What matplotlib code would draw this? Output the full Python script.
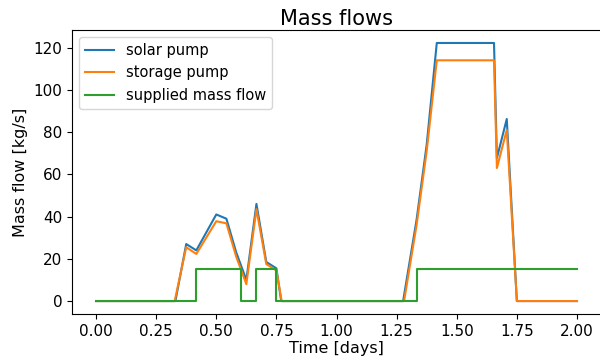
import matplotlib
matplotlib.use("Agg")
import matplotlib.pyplot as plt

# Time axis in days; pump flows in kg/s
solar_t = [0.0, 0.33, 0.375, 0.417, 0.5, 0.542, 0.583, 0.625, 0.667, 0.708, 0.75, 0.77,
           1.277, 1.333, 1.375, 1.417, 1.655, 1.667, 1.708, 1.75, 2.0]
solar_flow = [0, 0, 27, 24, 41, 39, 23, 10, 46, 18.5, 15.5, 0,
              0, 38.5, 74, 122.2, 122.2, 67.7, 86.2, 0, 0]

storage_t = [0.0, 0.327, 0.375, 0.417, 0.5, 0.542, 0.583, 0.625, 0.667, 0.708, 0.75, 0.772,
             1.281, 1.333, 1.375, 1.417, 1.655, 1.667, 1.708, 1.75, 2.0]
storage_flow = [0, 0, 25.5, 22.3, 37.8, 36.8, 21, 8, 43.5, 17.5, 14.5, 0,
                0, 36, 71, 114, 114, 63, 81, 0, 0]

supply_t = [0.0, 0.4167, 0.6042, 0.6667, 0.75, 1.3333, 2.0]
supply_flow = [0, 15, 0, 15, 0, 15, 15]

fig = plt.figure(figsize=(6.0, 3.58), dpi=100)
ax = fig.add_axes([0.12, 0.123, 0.8817, 0.793])

ax.plot(solar_t, solar_flow, color="#1f77b4", lw=1.5, label="solar pump")
ax.plot(storage_t, storage_flow, color="#ff7f0e", lw=1.5, label="storage pump")
ax.plot(supply_t, supply_flow, color="#2ca02c", lw=1.5, drawstyle="steps-post",
        label="supplied mass flow")

ax.set_xticks([0.0, 0.25, 0.5, 0.75, 1.0, 1.25, 1.5, 1.75, 2.0])
ax.xaxis.set_major_formatter(matplotlib.ticker.FormatStrFormatter("%.2f"))
ax.set_yticks([0, 20, 40, 60, 80, 100, 120])
ax.tick_params(labelsize=11)
ax.set_xlabel("Time [days]", fontsize=11.5, labelpad=2)
ax.set_ylabel("Mass flow [kg/s]", fontsize=11.5)
ax.set_title("Mass flows", fontsize=15, pad=4)
ax.legend(loc="upper left", fontsize=10.5)

fig.savefig("out.png", dpi=100)
